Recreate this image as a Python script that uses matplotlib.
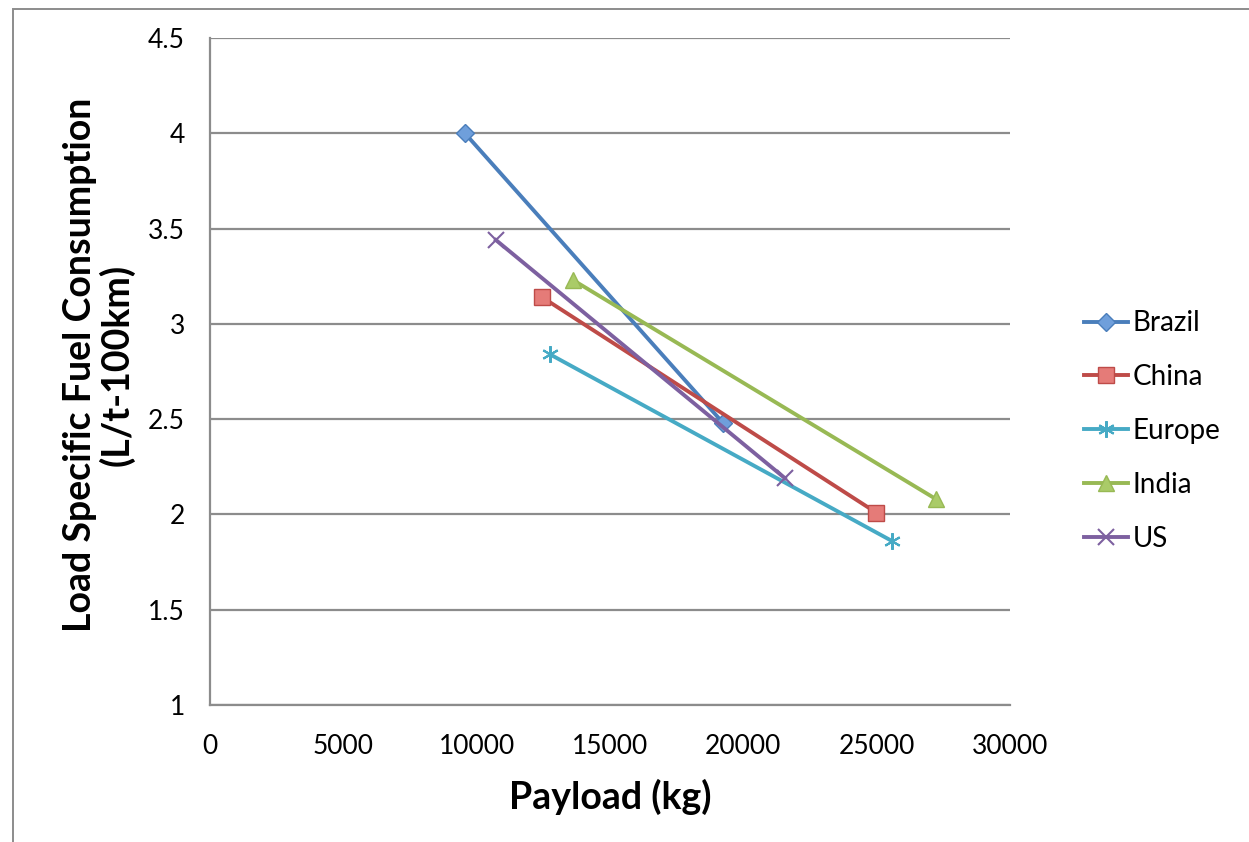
import matplotlib.pyplot as plt
from matplotlib.patches import Rectangle

# payload (kg) and load specific fuel consumption (L/t-100km), two points per region
regions = ['Brazil', 'China', 'Europe', 'India', 'US']
payload = {
    'Brazil': [9560, 19240],
    'China': [12450, 24980],
    'Europe': [12750, 25580],
    'India': [13610, 27230],
    'US': [10720, 21560],
}
lsfc = {
    'Brazil': [4.00, 2.48],
    'China': [3.14, 2.01],
    'Europe': [2.84, 1.86],
    'India': [3.23, 2.08],
    'US': [3.44, 2.19],
}

colors = {'Brazil': '#4A7EBB', 'China': '#BE4B48', 'Europe': '#46AAC5',
          'India': '#98B954', 'US': '#7D60A0'}
faces = {'Brazil': '#6F9FDB', 'China': '#E57B78', 'Europe': '#46AAC5',
         'India': '#AACB68', 'US': '#7D60A0'}
markers = {'Brazil': 'D', 'China': 's', 'Europe': (6, 2, 0), 'India': '^', 'US': 'x'}
msizes = {'Brazil': 9, 'China': 12, 'Europe': 12, 'India': 12, 'US': 12}

font = ['Lato', 'DejaVu Sans']

fig = plt.figure(figsize=(12.49, 8.42), dpi=100)
ax = fig.add_axes([210/1249, 137/842, 800/1249, 667/842])

for r in regions:
    ax.plot(payload[r], lsfc[r], color=colors[r], lw=2.8, marker=markers[r],
            markersize=msizes[r], markerfacecolor=faces[r], markeredgecolor=colors[r],
            markeredgewidth=1.5 if r in ('Europe', 'US') else 1.0, label=r, zorder=3)

ax.set_xlim(0, 30000)
ax.set_ylim(1, 4.5)
ax.set_xticks(range(0, 30001, 5000))
ax.set_yticks([1, 1.5, 2, 2.5, 3, 3.5, 4, 4.5])
ax.set_yticklabels(['1', '1.5', '2', '2.5', '3', '3.5', '4', '4.5'])
ax.grid(axis='y', color='#8C8C8C', lw=1.6, zorder=1)
ax.set_axisbelow(True)
for s in ['top', 'right']:
    ax.spines[s].set_visible(False)
for s in ['left', 'bottom']:
    ax.spines[s].set_color('#8C8C8C')
    ax.spines[s].set_linewidth(1.6)
ax.tick_params(axis='both', length=0, labelsize=19)
ax.tick_params(axis='y', pad=18)
ax.tick_params(axis='x', pad=21)
for t in ax.get_xticklabels() + ax.get_yticklabels():
    t.set_family(font)

ax.set_xlabel('Payload (kg)', fontsize=27, fontweight='bold', family=font)
ax.xaxis.set_label_coords(0.5, -0.138)
ax.xaxis.label.set_va('center')
ax.set_ylabel('Load Specific Fuel Consumption\n(L/t-100km)', fontsize=27,
              fontweight='bold', family=font, linespacing=1.05)
ax.yaxis.set_label_coords(-0.139, 0.51)
ax.yaxis.label.set_va('center')

leg = ax.legend(loc='center left', bbox_to_anchor=(1084/1249, 411/842),
                bbox_transform=fig.transFigure, frameon=False, fontsize=20,
                numpoints=1, handlelength=1.6, handletextpad=0.15,
                labelspacing=1.0, borderpad=0, borderaxespad=0)
for t in leg.get_texts():
    t.set_family(font)

# chart area border
fig.patches.append(Rectangle((13/1249, -0.01), 1.1, (842-9)/842 + 0.01,
                             transform=fig.transFigure, fill=False,
                             edgecolor='#8C8C8C', lw=1.4))

fig.savefig('out.png', dpi=100)
